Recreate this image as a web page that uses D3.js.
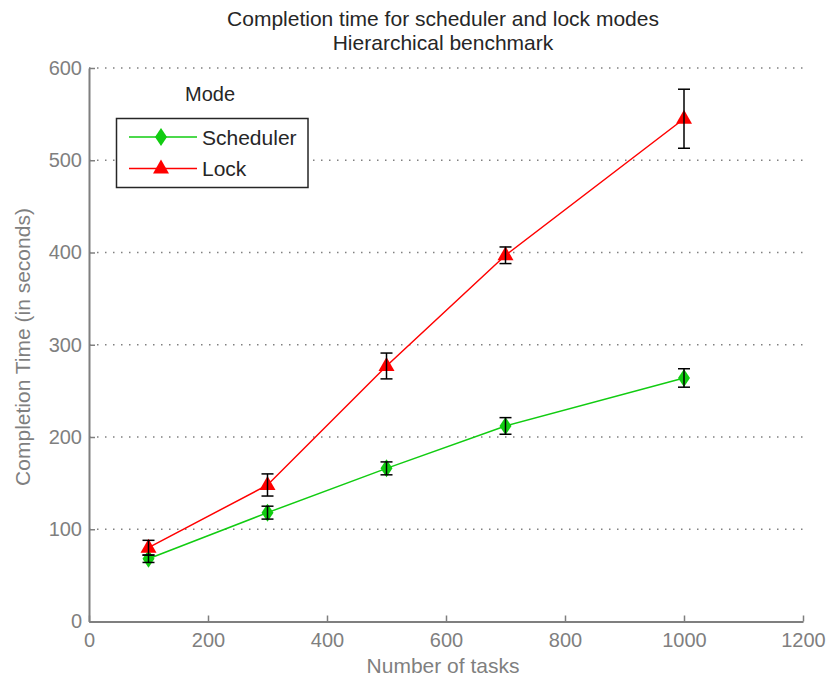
<!DOCTYPE html>
<html>
<head>
<meta charset="utf-8">
<script src="https://cdn.jsdelivr.net/npm/d3@7"></script>
<style>
  body { margin: 0; background: #fff; }
  svg text { font-family: "Liberation Sans", Arial, sans-serif; }
</style>
</head>
<body>
<svg id="chart" width="827" height="681"></svg>
<script>
// data
const tasks = [100, 300, 500, 700, 1000];
const schedulerTime = [68, 118, 166, 212, 264];
const schedulerErr = [4, 7, 7, 9, 10];
const lockTime = [80, 148, 277, 397, 545];
const lockErr = [8, 12, 14, 9, 32];
const xTicks = [0, 200, 400, 600, 800, 1000, 1200];
const yTicks = [0, 100, 200, 300, 400, 500, 600];
const seriesNames = ["Scheduler", "Lock"];

const plotLeft = 89, plotRight = 803, plotTop = 68, plotBottom = 621.5;
const axisColor = "#7f7f7f";
const textColor = "#262626";
const colors = { Scheduler: "#11cc11", Lock: "#ff0000" };

const svg = d3.select("#chart");

const x = d3.scaleLinear().domain([0, 1200]).range([plotLeft, plotRight]);
const y = d3.scaleLinear().domain([0, 600]).range([plotBottom, plotTop]);

// grid (horizontal dotted)
svg.append("g")
  .selectAll("line")
  .data(yTicks.filter(d => d > 0))
  .enter().append("line")
  .attr("x1", plotLeft).attr("x2", plotRight)
  .attr("y1", d => y(d)).attr("y2", d => y(d))
  .attr("stroke", "#808080")
  .attr("stroke-width", 1.5)
  .attr("stroke-dasharray", "1.5,6.5");

// axes
const xAxis = svg.append("g")
  .attr("transform", `translate(0,${plotBottom})`)
  .call(d3.axisBottom(x).tickValues(xTicks).tickFormat(d3.format("d"))
    .tickSizeInner(-6).tickSizeOuter(0).tickPadding(11));
const yAxis = svg.append("g")
  .attr("transform", `translate(${plotLeft},0)`)
  .call(d3.axisLeft(y).tickValues(yTicks).tickFormat(d3.format("d"))
    .tickSizeInner(-6).tickSizeOuter(0).tickPadding(7));

[xAxis, yAxis].forEach(a => {
  a.select(".domain").attr("stroke", axisColor).attr("stroke-width", 2);
  a.selectAll(".tick line").attr("stroke", axisColor).attr("stroke-width", 1.5);
  a.selectAll(".tick text").attr("fill", axisColor)
    .style("font-size", "20px")
    .style("font-family", "'Liberation Sans', Arial, sans-serif");
});

// titles
svg.append("text")
  .attr("x", 443).attr("y", 26)
  .attr("text-anchor", "middle")
  .attr("fill", textColor)
  .style("font-size", "21px")
  .text("Completion time for scheduler and lock modes");
svg.append("text")
  .attr("x", 443).attr("y", 50)
  .attr("text-anchor", "middle")
  .attr("fill", textColor)
  .style("font-size", "21px")
  .text("Hierarchical benchmark");

svg.append("text")
  .attr("x", 443).attr("y", 673)
  .attr("text-anchor", "middle")
  .attr("fill", axisColor)
  .style("font-size", "21px")
  .text("Number of tasks");
svg.append("text")
  .attr("transform", `translate(30,347) rotate(-90)`)
  .attr("text-anchor", "middle")
  .attr("fill", axisColor)
  .style("font-size", "21px")
  .text("Completion Time (in seconds)");

const diamond = "M0,-9L6,0L0,9L-6,0Z";
const triangle = "M0,-9L8,5L-8,5Z";

const series = [
  { name: "Scheduler", vals: schedulerTime, err: schedulerErr, shape: diamond },
  { name: "Lock", vals: lockTime, err: lockErr, shape: triangle }
];

const line = d3.line().x(d => x(d[0])).y(d => y(d[1]));

series.forEach(s => {
  const pts = tasks.map((t, i) => [t, s.vals[i], s.err[i]]);
  const g = svg.append("g");
  g.append("path")
    .datum(pts)
    .attr("d", line)
    .attr("fill", "none")
    .attr("stroke", colors[s.name])
    .attr("stroke-width", 1.5);
  g.selectAll(".mk")
    .data(pts)
    .enter().append("path")
    .attr("class", "mk")
    .attr("d", s.shape)
    .attr("transform", d => `translate(${x(d[0])},${y(d[1])})`)
    .attr("fill", colors[s.name]);
  const eb = g.selectAll(".eb").data(pts).enter().append("g").attr("class", "eb");
  eb.append("line")
    .attr("x1", d => x(d[0])).attr("x2", d => x(d[0]))
    .attr("y1", d => y(d[1] - d[2])).attr("y2", d => y(d[1] + d[2]))
    .attr("stroke", "#000").attr("stroke-width", 1.5);
  eb.selectAll(".cap")
    .data(d => [[d[0], d[1] - d[2]], [d[0], d[1] + d[2]]])
    .enter().append("line")
    .attr("x1", d => x(d[0]) - 6).attr("x2", d => x(d[0]) + 6)
    .attr("y1", d => y(d[1])).attr("y2", d => y(d[1]))
    .attr("stroke", "#000").attr("stroke-width", 1.5);
});

// legend
const lg = svg.append("g");
lg.append("text")
  .attr("x", 210).attr("y", 101)
  .attr("text-anchor", "middle")
  .attr("fill", textColor)
  .style("font-size", "20px")
  .text("Mode");
lg.append("rect")
  .attr("x", 116.5).attr("y", 118.5).attr("width", 191.5).attr("height", 69)
  .attr("fill", "#fff").attr("stroke", textColor).attr("stroke-width", 1.5);
series.forEach((s, i) => {
  const ly = 137 + i * 31.5;
  lg.append("line")
    .attr("x1", 129).attr("x2", 197).attr("y1", ly).attr("y2", ly)
    .attr("stroke", colors[s.name]).attr("stroke-width", 1.5);
  lg.append("path")
    .attr("d", s.shape)
    .attr("transform", `translate(161,${ly})`)
    .attr("fill", colors[s.name]);
  lg.append("text")
    .attr("x", 202).attr("y", ly + 7.5)
    .attr("fill", textColor)
    .style("font-size", "21px")
    .text(seriesNames[i]);
});
</script>
</body>
</html>
